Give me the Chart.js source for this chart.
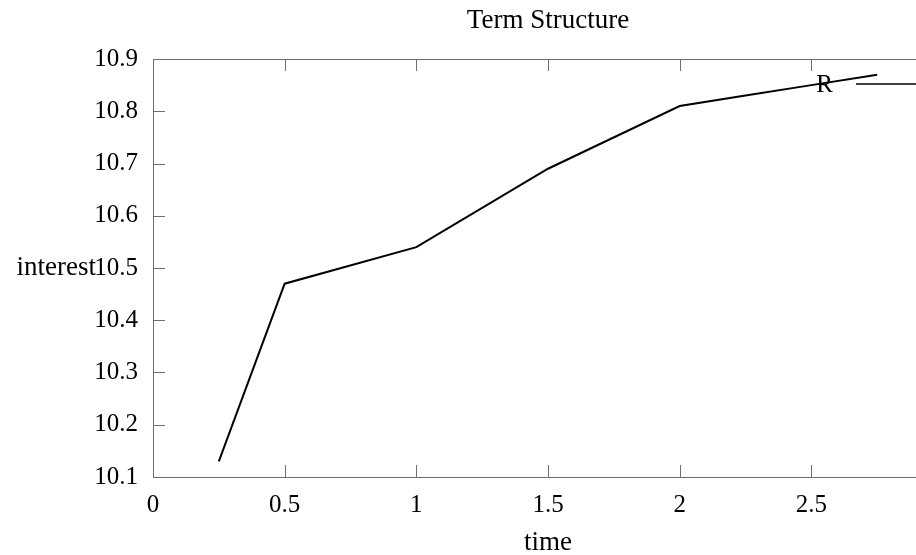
<!DOCTYPE html>
<html>
<head>
<meta charset="utf-8">
<script src="https://cdn.jsdelivr.net/npm/chart.js@4"></script>
<style>
  html, body { margin: 0; padding: 0; background: #fff; overflow: hidden; }
  /* the original plot runs a little past the right edge of the picture */
  #wrap { width: 943px; height: 555px; }
</style>
</head>
<body>
<div id="wrap"><canvas id="termChart"></canvas></div>
<script>
// maturities (years) and rates
var times = [0.25, 0.5, 1, 1.5, 2, 2.25, 2.5, 2.75];
var rates = [10.13, 10.47, 10.54, 10.69, 10.81, 10.83, 10.85, 10.87];
var seriesName = 'R';
var xRange = [0, 3];
var xTickValues = [0, 0.5, 1, 1.5, 2, 2.5];
var yRange = [10.1, 10.9];

var serif = "'Liberation Serif', 'DejaVu Serif', serif";
var axisGray = '#6e6e6e';

// gnuplot style: ticks point into the plot, horizontal y label, text-then-line key
var plotDecor = {
    id: 'plotDecor',
    afterDatasetsDraw: function(chart) {
        var ctx = chart.ctx;
        var area = chart.chartArea;
        var xs = chart.scales.x;
        var ys = chart.scales.y;
        var tick = 12;

        ctx.save();
        ctx.strokeStyle = axisGray;
        ctx.lineWidth = 1;
        ctx.beginPath();
        xs.ticks.forEach(function(t) {
            var px = Math.round(xs.getPixelForValue(t.value)) + 0.5;
            ctx.moveTo(px, area.bottom);
            ctx.lineTo(px, area.bottom - tick);
            ctx.moveTo(px, area.top);
            ctx.lineTo(px, area.top + tick);
        });
        ys.ticks.forEach(function(t) {
            var py = Math.round(ys.getPixelForValue(t.value)) + 0.5;
            ctx.moveTo(area.left, py);
            ctx.lineTo(area.left + tick, py);
            ctx.moveTo(area.right, py);
            ctx.lineTo(area.right - tick, py);
        });
        ctx.stroke();

        ctx.fillStyle = '#000';
        ctx.font = '27px ' + serif;
        ctx.textBaseline = 'middle';
        ctx.textAlign = 'right';
        ctx.fillText('interest', area.left - 57, (area.top + area.bottom) / 2);

        // key
        var ds = chart.data.datasets[0];
        var ky = area.top + 26;
        ctx.font = '25px ' + serif;
        ctx.fillText(ds.label, area.right - 110, ky);
        ctx.strokeStyle = ds.borderColor;
        ctx.lineWidth = 1.3;
        ctx.beginPath();
        ctx.moveTo(area.right - 87, ky - 1);
        ctx.lineTo(area.right - 10, ky - 1);
        ctx.stroke();
        ctx.restore();
    }
};

var points = times.map(function(t, i) { return { x: t, y: rates[i] }; });

function keepTicks(scale) {
    scale.ticks = xTickValues.map(function(v) { return { value: v }; });
}

new Chart(document.getElementById('termChart'), {
    type: 'line',
    data: {
        datasets: [{
            label: seriesName,
            data: points,
            borderColor: '#000',
            borderWidth: 2,
            pointRadius: 0,
            fill: false,
            tension: 0
        }]
    },
    options: {
        responsive: true,
        maintainAspectRatio: false,
        animation: false,
        layout: { padding: 0 },
        plugins: {
            legend: { display: false },
            tooltip: { enabled: false }
        },
        scales: {
            x: {
                type: 'linear',
                position: 'bottom',
                min: xRange[0],
                max: xRange[1],
                afterBuildTicks: keepTicks,
                ticks: {
                    color: '#000',
                    padding: 13,
                    maxRotation: 0,
                    font: { family: serif, size: 25 },
                    callback: function(v) { return String(v); }
                },
                grid: { drawOnChartArea: false, drawTicks: false },
                border: { display: true, color: axisGray, width: 1 },
                title: {
                    display: true,
                    text: 'time',
                    color: '#000',
                    font: { family: serif, size: 27, lineHeight: 1.2 },
                    padding: { top: 0, bottom: -4 }
                },
                afterFit: function(s) { s.height = 78; }
            },
            xTop: {
                type: 'linear',
                position: 'top',
                min: xRange[0],
                max: xRange[1],
                ticks: { display: false },
                grid: { drawOnChartArea: false, drawTicks: false },
                border: { display: true, color: axisGray, width: 1 },
                title: {
                    display: true,
                    text: 'Term Structure',
                    color: '#000',
                    font: { family: serif, size: 27, lineHeight: 1.2 },
                    padding: { top: 5, bottom: 0 }
                },
                afterFit: function(s) { s.height = 59; }
            },
            y: {
                type: 'linear',
                min: yRange[0],
                max: yRange[1],
                ticks: {
                    stepSize: 0.1,
                    color: '#000',
                    padding: 15,
                    font: { family: serif, size: 25 }
                },
                grid: { drawOnChartArea: false, drawTicks: false },
                border: { display: true, color: axisGray, width: 1 },
                afterFit: function(s) { s.width = 153; }
            }
        }
    },
    plugins: [plotDecor]
});
</script>
</body>
</html>
